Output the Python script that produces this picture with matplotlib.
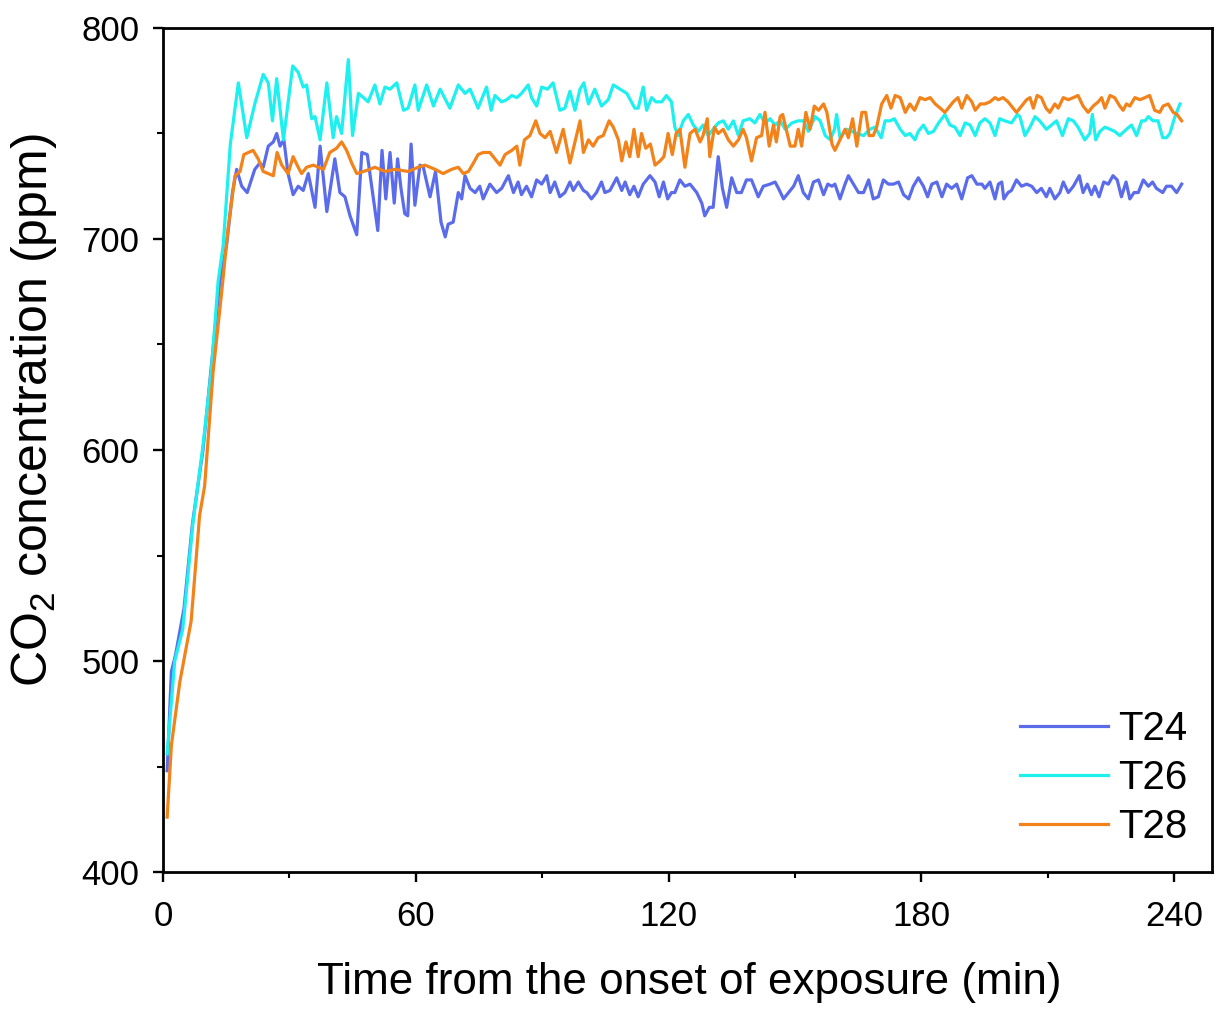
import matplotlib
matplotlib.use("Agg")
import matplotlib.pyplot as plt
from matplotlib.ticker import MultipleLocator

plt.rcParams["font.family"] = ["Liberation Sans", "DejaVu Sans"]

# CO2 readings (min, ppm)
t24_time = [1, 2, 3, 5, 7, 9.5, 11.5, 13.5, 15.1, 16.5, 17.5, 18.7, 20, 21.8, 23, 23.8, 25, 26.2, 27, 27.8,
            28.7, 29.7, 30.9, 32.1, 33.3, 34.5, 36.1, 37.3, 38.9, 40.8, 42, 43.2, 44.4, 46, 47.2, 48.5, 51, 52,
            52.9, 53.9, 54.9, 55.7, 56.5, 57.4, 58.1, 58.9, 59.8, 61, 61.8, 63.4, 64.7, 66, 67, 67.7, 68.9,
            70.1, 70.9, 71.7, 72.9, 74.1, 75.2, 76, 77.6, 79.2, 80.4, 82, 83.2, 84.3, 85.1, 86.3, 87.5, 88.7,
            89.9, 91.1, 91.9, 93, 94.2, 95.4, 96.6, 97.4, 98.6, 99.8, 100.6, 101.7, 102.9, 104.1, 104.9, 106.1,
            107.7, 108.9, 109.7, 110.8, 111.8, 112.8, 114, 115.6, 116.8, 117.8, 118.8, 119.8, 120.7, 121.5,
            122.7, 123.9, 125.1, 126.7, 127.9, 128.6, 129.7, 130.6, 131.8, 132.8, 133.8, 135, 136.2, 137.3,
            138.5, 139.7, 141.3, 142.5, 144.1, 145.3, 146.1, 147.3, 148.5, 149.7, 150.8, 152, 153.2, 154.4,
            155.6, 156.8, 157.8, 158.8, 159.5, 160.7, 161.9, 162.7, 163.9, 165.1, 166.3, 167.5, 168.6, 169.8,
            171, 172.2, 173.4, 174.6, 175.8, 177, 178.1, 179.3, 180.5, 181.5, 182.5, 183.7, 184.9, 186, 187.2,
            188.4, 189.6, 191, 192, 193.2, 194.4, 195.1, 196.3, 197.5, 198.3, 199.1, 199.6, 200.6, 201.4,
            202.6, 203.8, 205, 206.2, 207.4, 208.5, 209.7, 210.5, 211.7, 212.9, 213.7, 214.9, 216.1, 217.5,
            218.4, 219.4, 220.4, 221.2, 222.2, 223.3, 224.4, 225.5, 226.5, 227.5, 228.6, 229.5, 230.5, 231.5,
            232.7, 233.9, 234.9, 235.8, 237.3, 238.2, 239.4, 240.6, 241.8]
t24_ppm = [448, 495, 503, 525, 565, 600, 640, 680, 697, 722, 733, 725, 722, 733, 736, 734, 744, 746, 750, 744,
           747, 731, 721, 725, 723, 731, 715, 744, 713, 738, 722, 720, 711, 702, 741, 740, 704, 742,
           719, 741, 717, 738, 724, 712, 711, 745, 716, 735, 734, 720, 732, 708, 701, 707, 708,
           722, 719, 730, 724, 722, 725, 719, 726, 722, 724, 730, 722, 727, 721, 725, 720, 728,
           726, 730, 722, 727, 720, 722, 727, 723, 727, 723, 722, 719, 722, 727, 722, 723,
           729, 723, 727, 721, 725, 720, 726, 730, 727, 720, 727, 719, 722, 722,
           728, 725, 726, 722, 717, 711, 715, 715, 739, 724, 715, 729, 722, 722,
           728, 728, 720, 725, 726, 727, 724, 719, 722, 725, 730, 722, 719, 727,
           728, 721, 726, 725, 726, 719, 726, 730, 726, 722, 722, 728, 719, 720,
           728, 726, 726, 727, 721, 719, 725, 729, 725, 720, 726, 727, 720, 726, 724,
           726, 719, 729, 730, 726, 726, 724, 727, 719, 726, 727, 719, 722, 723,
           728, 725, 726, 725, 722, 724, 720, 724, 719, 722, 727, 722, 725, 730,
           722, 726, 721, 725, 720, 727, 726, 730, 728, 720, 727, 719, 722, 722,
           728, 725, 727, 724, 722, 725, 725, 722, 726]

t26_time = [1, 2.8, 4.7, 7.1, 9.5, 11.5, 13.1, 14.3, 16, 17.9, 19.9, 21.8, 23.8, 25, 26, 27, 28.6, 30.8, 32.1,
            33.3, 34.1, 35.3, 36.1, 37.3, 38.9, 40.4, 41.2, 42.4, 44, 45, 46.4, 47.6, 48.7, 50.3, 51.5, 52.7,
            53.9, 55.5, 57.1, 58.2, 59.8, 60.6, 62.6, 64.2, 65.8, 68.1, 70.1, 71.7, 72.9, 74.8, 76.8, 77.9,
            78.8, 80.4, 81.6, 82.8, 84, 85.1, 86.7, 87.5, 88.7, 89.9, 91.3, 92.6, 94.2, 95.4, 96.6, 97.8, 99,
            99.9, 101, 102.5, 104.1, 105.7, 106.9, 108.5, 110.1, 112, 112.8, 114, 114.8, 116, 117, 118.4,
            119.5, 120.7, 121.5, 122.3, 123.5, 124.7, 125.9, 127.1, 128.2, 129.4, 130.6, 131.8, 133, 134.2,
            135.4, 136.6, 137.7, 139.3, 140.5, 141.7, 142.9, 144.1, 145.3, 146.5, 147.7, 149.3, 150.8, 152,
            153.2, 154.8, 156, 157.2, 158.4, 159.4, 159.9, 160.7, 162.3, 163.5, 164.7, 166.3, 167.8, 169,
            170.5, 171.4, 172.6, 173.6, 175, 176.2, 177.3, 178.5, 179.3, 180.5, 181.7, 182.9, 184.1, 185.6,
            186.8, 188, 189.2, 190.4, 191.6, 192.8, 193.9, 195.1, 196.3, 197.5, 198.6, 199.8, 201.4, 202.8,
            203.4, 204.6, 205.8, 207, 208.1, 209.7, 210.9, 212.1, 213.5, 214.9, 216.1, 217.2, 218.8, 220,
            220.6, 221.4, 222.4, 223.6, 224.8, 225.9, 227.1, 228.7, 229.9, 231.1, 232.3, 233.1, 233.9, 235,
            236.2, 237.3, 238.2, 239, 240.2, 241.4]
t26_ppm = [456, 500, 515, 565, 602, 638, 680, 697, 745, 774, 748, 764, 778, 774, 756, 776, 747, 782, 779,
           772, 773, 757, 758, 747, 774, 748, 758, 750, 785, 749, 769, 767, 765, 773, 764, 772,
           771, 774, 761, 762, 773, 761, 773, 763, 771, 762, 773, 769, 771, 762, 772, 761,
           768, 765, 766, 768, 767, 769, 773, 767, 763, 772, 771, 774, 761, 762, 770, 761, 771,
           774, 764, 771, 763, 766, 773, 771, 769, 762, 762, 772, 761, 767, 765, 765,
           768, 765, 753, 749, 756, 759, 754, 751, 754, 749, 752, 755, 756, 752,
           756, 749, 756, 757, 755, 759, 755, 757, 754, 756, 752, 755, 756, 756,
           751, 758, 756, 749, 747, 752, 759, 748, 752, 751, 750, 749, 752, 753,
           748, 756, 756, 757, 752, 749, 750, 747, 751, 754, 750, 751, 755, 759,
           754, 753, 749, 755, 754, 749, 755, 757, 755, 749, 757, 756, 755, 759,
           758, 749, 753, 758, 756, 752, 754, 756, 749, 757, 756, 753, 747, 750,
           759, 747, 751, 753, 752, 751, 749, 752, 754, 749, 756, 756, 758, 756,
           756, 748, 748, 750, 758, 764]

t28_time = [1, 2, 4, 6.7, 8.7, 9.9, 11.9, 13.9, 15.4, 17.1, 18.3, 19.2, 20.3, 21.4, 22.6, 23.8, 25, 26.2, 27.1,
            28.2, 29.7, 30.9, 32.1, 32.9, 34.1, 35.7, 36.9, 38.1, 39.6, 41.2, 42.4, 43.6, 44.8, 46, 47.6, 49.1,
            50.3, 52.7, 55.1, 58.2, 60.6, 62.2, 64.6, 66.5, 68.5, 70.1, 71.3, 72.5, 73.7, 74.8, 76, 77.6,
            78.8, 80, 81.2, 82.8, 84, 84.7, 85.8, 87.1, 88.5, 89.5, 90.7, 91.9, 93.4, 95, 96.6, 97.8, 99,
            99.8, 101, 102.1, 103.3, 104.5, 105.9, 106.9, 108.1, 108.9, 109.9, 110.8, 111.8, 112.8, 113.6,
            114.6, 115.7, 116.8, 118, 118.9, 119.9, 120.9, 121.8, 122.7, 123.9, 125.1, 126.3, 127.5, 128.2,
            129.2, 129.8, 130.9, 131.8, 133, 134.2, 135.4, 136.6, 137.7, 138.5, 139.7, 140.9, 142.1, 142.9,
            143.9, 144.9, 145.6, 146.5, 147.1, 147.7, 148.9, 150, 150.8, 151.6, 152.6, 153.6, 154.6, 155.6,
            156.8, 157.6, 158.8, 159.5, 160.7, 161.9, 162.7, 163.7, 164.7, 165.9, 166.8, 167.6, 168.6, 169.4,
            170.6, 171.8, 172.8, 173.8, 175, 176.2, 177.3, 178.4, 179.7, 180.9, 182.1, 183.3, 184.5, 185.6,
            186.8, 187.6, 188.7, 189.6, 190.8, 192, 192.8, 194, 195.1, 196.3, 197.5, 198.3, 199.4, 200.6,
            201.4, 202.6, 203.8, 205, 205.8, 206.6, 207.5, 208.5, 209.6, 210.5, 211.7, 212.5, 213.7, 214.9,
            216.1, 217.2, 218.4, 219.6, 220.8, 222, 222.8, 223.6, 224.8, 225.9, 227.1, 227.9, 228.7, 229.5,
            230.7, 231.9, 233.1, 234.2, 235.4, 236.6, 237.4, 238.6, 239.8, 240.7, 241.8]
t28_ppm = [426, 460, 490, 519, 569, 583, 637, 674, 704, 730, 732, 740, 741, 742, 738, 732, 731, 730, 741,
           735, 731, 739, 734, 731, 734, 735, 734, 733, 741, 743, 746, 742, 736, 731, 732, 733,
           734, 732, 733, 732, 734, 735, 733, 731, 733, 734, 731, 732, 736, 740, 741, 741,
           738, 735, 740, 742, 744, 735, 747, 749, 756, 750, 748, 751, 741, 752, 736, 746, 756,
           741, 747, 744, 748, 749, 756, 753, 747, 737, 746, 739, 752, 739, 750,
           743, 745, 735, 737, 739, 750, 740, 750, 752, 734, 750, 752, 746, 749,
           757, 739, 753, 750, 752, 747, 744, 747, 752, 748, 737, 748, 749, 760,
           744, 754, 746, 758, 759, 754, 744, 744, 752, 744, 760, 752, 763, 761,
           764, 760, 745, 742, 747, 752, 748, 757, 744, 760, 760, 749, 749, 753,
           764, 768, 762, 768, 767, 760, 764, 761, 767, 766, 767, 764, 762, 760,
           763, 765, 767, 762, 768, 765, 761, 764, 764, 765, 767, 766, 767, 765,
           763, 760, 763, 766, 767, 762, 768, 767, 762, 760, 764, 762, 767, 766,
           767, 768, 763, 760, 763, 765, 767, 762, 768, 767, 763, 761, 764, 763,
           767, 766, 767, 768, 761, 760, 763, 764, 760, 759, 756]

fig = plt.figure(figsize=(12.16, 10.10), dpi=100)
ax = fig.add_axes([0.134, 0.1366, 0.8627, 0.8357])

ax.plot(t24_time, t24_ppm, color="#5B6CEB", lw=2.3, label="T24")
ax.plot(t26_time, t26_ppm, color="#1EF0F0", lw=2.3, label="T26")
ax.plot(t28_time, t28_ppm, color="#F2821A", lw=2.3, label="T28")

ax.set_xlim(0, 249)
ax.set_ylim(400, 800)
ax.xaxis.set_major_locator(MultipleLocator(60))
ax.xaxis.set_minor_locator(MultipleLocator(30))
ax.yaxis.set_major_locator(MultipleLocator(100))
ax.yaxis.set_minor_locator(MultipleLocator(50))

for s in ax.spines.values():
    s.set_linewidth(2)
ax.tick_params(which="major", direction="out", length=7, width=1.7, labelsize=25)
ax.tick_params(which="minor", direction="out", length=4, width=1.5)
ax.tick_params(axis="x", which="major", pad=13)
ax.tick_params(axis="y", which="major", pad=10)

ax.set_xlabel("Time from the onset of exposure (min)", fontsize=31.7)
ax.set_ylabel(r"CO$_\mathregular{2}$ concentration (ppm)", fontsize=36)
ax.xaxis.set_label_coords(0.502, -0.107)
ax.yaxis.set_label_coords(-0.099, 0.547)

ax.legend(loc="lower right", bbox_to_anchor=(0.996, 0.007), frameon=False, fontsize=29,
          handlelength=2.2, handletextpad=0.25, labelspacing=0.27, borderpad=0)

fig.savefig("out.png", dpi=100)
